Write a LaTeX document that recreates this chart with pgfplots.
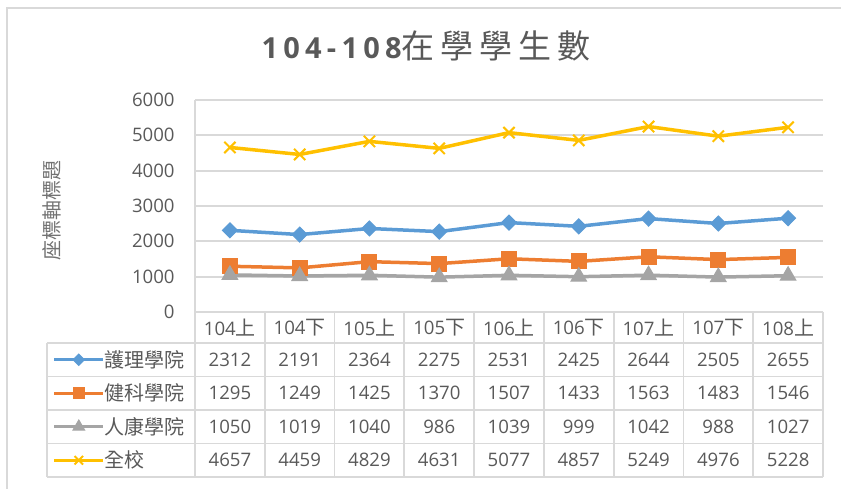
\documentclass[border=0pt]{standalone}
\usepackage{pgfplots}
\pgfplotsset{compat=1.18}
\usepackage{pgfplotstable}
\usepackage{fontspec}
\setmainfont{Open Sans}
\newfontfamily\cjk{Noto Sans CJK TC}
\newfontfamily\titlelat[LetterSpace=18]{Open Sans}
\newfontfamily\titlecjk[LetterSpace=18]{Noto Sans CJK TC}
\definecolor{textgray}{HTML}{595959}
\definecolor{gridgray}{HTML}{D9D9D9}
\definecolor{cblue}{HTML}{5B9BD5}
\definecolor{corange}{HTML}{ED7D31}
\definecolor{cgray}{HTML}{A5A5A5}
\definecolor{cyellow}{HTML}{FFC000}
\newcommand\tabfont{\fontsize{9.3}{11}\selectfont}
\newcommand\cj[1]{{\fontsize{10}{12}\cjk #1}}

\pgfplotstableread{
x nur hea hum all
0 2312 1295 1050 4657
1 2191 1249 1019 4459
2 2364 1425 1040 4829
3 2275 1370 986 4631
4 2531 1507 1039 5077
5 2425 1433 999 4857
6 2644 1563 1042 5249
7 2505 1483 988 4976
8 2655 1546 1027 5228
}\data

\begin{document}
\begin{tikzpicture}
\begin{scope}[x=0.5pt,y=-0.5pt]
\useasboundingbox (0,0) rectangle (841,488);
\draw[gridgray, line width=1pt] (7,520) -- (7,8) -- (900,8);
\node[anchor=base, text=textgray, inner sep=0pt] at (426,58)
  {{\titlelat\bfseries\fontsize{14.5}{16}\selectfont 104-108}{\titlecjk\fontsize{16.5}{18}\selectfont 在學學生數}};
\node[rotate=90, text=textgray!85, inner sep=0pt] at (52,210) {\cj{座標軸標題}};
\end{scope}

\begin{axis}[
  at={(97.5pt,-156pt)}, anchor=south west,
  width=314pt, height=106pt, scale only axis,
  xmin=-0.5, xmax=8.5, ymin=0, ymax=6000,
  xtick={0,...,8},
  xticklabels={104\cj{上},104\cj{下},105\cj{上},105\cj{下},106\cj{上},106\cj{下},107\cj{上},107\cj{下},108\cj{上}},
  ytick={0,1000,...,6000},
  major tick length=0pt,
  axis line style={draw=none},
  ymajorgrids, major grid style={draw=gridgray, line width=0.9pt},
  tick label style={text=textgray, font=\tabfont},
  /pgf/number format/assume math mode=true,
  /pgf/number format/1000 sep={},
  yticklabel style={anchor=east, inner sep=0pt, xshift=-10pt},
  xticklabel style={anchor=center, inner sep=0pt, yshift=-8pt},
  clip=false,
  legend style={at={(axis description cs:-0.2261,-0.1462)}, anchor=north west,
    draw=none, fill=none, inner sep=0pt, outer sep=0pt, row sep=0pt,
    column sep=0pt,
    nodes={inner sep=0pt, text height=12.2pt, text depth=4.55pt, anchor=west, text=textgray}},
  legend cell align=left,
  legend image code/.code={\draw[mark repeat=2,mark phase=2,#1, line width=1.3pt, every mark/.append style={scale=0.75}] plot coordinates {(0pt,0pt) (12.25pt,0pt) (24.5pt,0pt)};},
]
\addplot[color=cblue, line width=1.75pt, mark=diamond*, mark size=3.75pt,
  mark options={solid, fill=cblue, draw=cblue, line width=0.5pt, xscale=1.33}]
  table[x=x,y=nur]{\data};
\addlegendentry{\cj{護理學院}}
\addplot[color=corange, line width=1.75pt, mark=square*, mark size=3.75pt,
  mark options={solid, fill=corange, draw=corange, line width=0.5pt}]
  table[x=x,y=hea]{\data};
\addlegendentry{\cj{健科學院}}
\addplot[color=cgray, line width=1.75pt, mark=triangle*, mark size=4.5pt,
  mark options={solid, fill=cgray, draw=cgray, line width=0.5pt}]
  table[x=x,y=hum]{\data};
\addlegendentry{\cj{人康學院}}
\addplot[color=cyellow, line width=1.75pt, mark=x, mark size=4pt,
  mark options={solid, draw=cyellow, line width=1pt}]
  table[x=x,y=all]{\data};
\addlegendentry{\cj{全校}}
\end{axis}

\begin{scope}[x=0.5pt,y=-0.5pt]
\draw[gridgray, line width=0.9pt] (195,100) -- (195,477);
\foreach \k in {1,...,9} {
  \draw[gridgray, line width=0.9pt] ({195+69.78*\k},312) -- ({195+69.78*\k},477);
}
\draw[gridgray, line width=0.9pt] (47,343) -- (47,477);
\foreach \yy in {343,376.5,410,443.5,477} {
  \draw[gridgray, line width=0.9pt] (47,\yy) -- (823,\yy);
}
\foreach \i in {0,...,8} {
  \pgfmathsetmacro\cx{195+69.78*(\i+0.5)}
  \foreach \col/\ry in {nur/359.5, hea/393, hum/426.5, all/460} {
    \pgfplotstablegetelem{\i}{\col}\of\data
    \node[text=textgray, font=\tabfont, inner sep=0pt] at (\cx,\ry) {\pgfplotsretval};
  }
}
\end{scope}
\end{tikzpicture}
\end{document}
